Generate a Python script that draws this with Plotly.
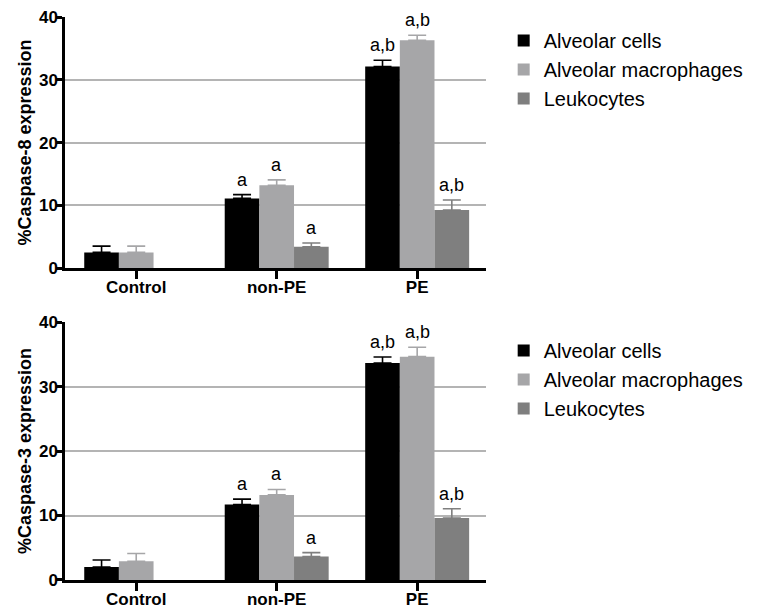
import plotly.graph_objects as go
from plotly.subplots import make_subplots

groups = ["Control", "non-PE", "PE"]
series_names = ["Alveolar cells", "Alveolar macrophages", "Leukocytes"]
colors = ["#000000", "#a6a6a8", "#7f7f7f"]

# Caspase-8 (top panel)
casp8_alveolar_cells = [2.5, 11.1, 32.1]
casp8_alveolar_cells_err = [1.0, 0.6, 1.0]
casp8_macrophages = [2.5, 13.2, 36.3]
casp8_macrophages_err = [1.0, 0.85, 0.8]
casp8_leukocytes = [None, 3.4, 9.25]
casp8_leukocytes_err = [None, 0.6, 1.6]
casp8_labels = [["", "a", "a,b"], ["", "a", "a,b"], ["", "a", "a,b"]]

# Caspase-3 (bottom panel)
casp3_alveolar_cells = [2.0, 11.7, 33.65]
casp3_alveolar_cells_err = [1.1, 0.85, 0.95]
casp3_macrophages = [2.9, 13.2, 34.65]
casp3_macrophages_err = [1.2, 0.85, 1.45]
casp3_leukocytes = [None, 3.65, 9.6]
casp3_leukocytes_err = [None, 0.6, 1.45]
casp3_labels = [["", "a", "a,b"], ["", "a", "a,b"], ["", "a", "a,b"]]

y_ticks = [0, 10, 20, 30, 40]

panels = [
    dict(values=[casp8_alveolar_cells, casp8_macrophages, casp8_leukocytes],
         errs=[casp8_alveolar_cells_err, casp8_macrophages_err, casp8_leukocytes_err],
         labels=casp8_labels, title="%Caspase-8 expression", legend="legend"),
    dict(values=[casp3_alveolar_cells, casp3_macrophages, casp3_leukocytes],
         errs=[casp3_alveolar_cells_err, casp3_macrophages_err, casp3_leukocytes_err],
         labels=casp3_labels, title="%Caspase-3 expression", legend="legend2"),
]

FONT = "Liberation Sans, Arial, sans-serif"
BARGAP = 0.26
bar_w = (1 - BARGAP) / len(series_names)

fig = make_subplots(rows=2, cols=1)

annotations = []
for r, p in enumerate(panels, start=1):
    for j, name in enumerate(series_names):
        fig.add_trace(go.Bar(
            x=groups, y=p["values"][j], name=name,
            marker=dict(color=colors[j], line=dict(width=0)),
            error_y=dict(type="data", array=p["errs"][j], symmetric=False,
                         arrayminus=[0] * len(groups),
                         color=colors[j], thickness=1.6, width=9),
            legend=p["legend"], showlegend=True,
        ), row=r, col=1)
        for i, g in enumerate(groups):
            lab = p["labels"][j][i]
            if lab and p["values"][j][i] is not None:
                annotations.append(dict(
                    x=i + (j - 1) * bar_w, y=p["values"][j][i] + p["errs"][j][i],
                    xref="x" if r == 1 else "x2", yref="y" if r == 1 else "y2",
                    text=lab, showarrow=False, yanchor="bottom", yshift=3,
                    font=dict(family=FONT, size=18, color="#000000")))

axis_common = dict(showline=True, linecolor="#000000", linewidth=2.5,
                   ticks="outside", tickwidth=2.5, tickcolor="#000000",
                   automargin=False, ticklabeloverflow="allow")

for r, dom in [(1, [0.554, 1.0]), (2, [0.0, 0.458])]:
    fig.update_xaxes(row=r, col=1, type="category", range=[-0.507, 2.49], ticklen=8,
                     ticklabelstandoff=-6,
                     showgrid=False, tickfont=dict(family=FONT, size=17, color="#000000", weight="bold"),
                     **axis_common)
    fig.update_yaxes(row=r, col=1, domain=dom, range=[0, 40], tickvals=y_ticks, ticklen=6,
                     ticklabelstandoff=-5,
                     showgrid=True, gridcolor="#b4b4b4", gridwidth=1.5, zeroline=False,
                     tickfont=dict(family=FONT, size=17, color="#000000", weight="bold"),
                     title=dict(text=panels[r - 1]["title"], standoff=3,
                                font=dict(family=FONT, size=18, color="#000000", weight="bold")),
                     **axis_common)

legend_common = dict(xanchor="left", yanchor="top", x=1.042, bgcolor="rgba(0,0,0,0)",
                     font=dict(family=FONT, size=20, color="#000000"),
                     traceorder="normal", tracegroupgap=0)

fig.update_layout(
    width=749, height=602,
    margin=dict(l=57, r=267, t=9, b=30),
    paper_bgcolor="#ffffff", plot_bgcolor="#ffffff",
    barmode="group", bargap=BARGAP, bargroupgap=0,
    annotations=annotations,
    legend=dict(y=0.993, **legend_common),
    legend2=dict(y=0.4421, **legend_common),
    font=dict(family=FONT, color="#000000"),
)

fig.write_html("out.html")
